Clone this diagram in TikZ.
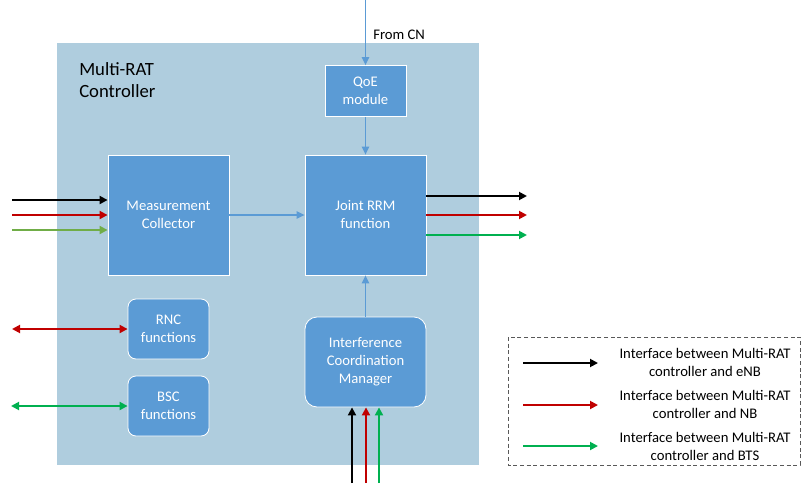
\documentclass[tikz,border=0pt]{standalone}
\usepackage{fontspec}
\setmainfont{Carlito}
\definecolor{ctrlbg}{HTML}{AFCDDE}
\definecolor{boxblue}{HTML}{5B9BD5}
\definecolor{myred}{HTML}{C00000}
\definecolor{mygreen}{HTML}{00B050}
\definecolor{lightgreen}{HTML}{70AD47}
\definecolor{legendgray}{HTML}{595959}
\usetikzlibrary{positioning, arrows.meta, calc}
\tikzset{
	blocknode/.style={
			rectangle,
			draw=white,
			line width=0.6pt,
			fill=boxblue,
			text=white,
			align=center,
			inner sep=0pt,
			font=\fontsize{11}{13.5}\selectfont
		},
	roundnode/.style={
			blocknode,
			rounded corners=6pt
		},
	textnode/.style={
			align=center,
			inner sep=0pt,
			font=\fontsize{11}{13.5}\selectfont
		},
	flow/.style={
			draw=boxblue,
			line width=1pt,
			-{Triangle[length=6pt,width=5.5pt]}
		},
	iface/.style={
			line width=1.4pt,
			-{Triangle[length=6pt,width=6pt]}
		},
	ifaceboth/.style={
			line width=1.4pt,
			{Triangle[length=6pt,width=6pt]}-{Triangle[length=6pt,width=6pt]}
		}
}

\begin{document}
\begin{tikzpicture}[x=0.75pt, y=-0.75pt]
\useasboundingbox (0,0) rectangle (801,483);
\fill[ctrlbg] (57,43) rectangle (479,465);

\node[anchor=north west, align=left, inner sep=0pt, font=\fontsize{14}{16.5}\selectfont] (title) at (79,62) {Multi-RAT\\Controller};

\node[blocknode, minimum width=60.75pt, minimum height=38.25pt] (qoe) at (365.5,91) {QoE\\module};
\node[blocknode, minimum width=90.75pt, minimum height=90pt] (mc) at (168.5,215) {Measurement\\Collector};
\node[blocknode, minimum width=90.75pt, minimum height=90pt] (rrm) at (365.5,215) {Joint RRM\\function};
\node[roundnode, minimum width=60.75pt, minimum height=45pt] (rnc) at (168.5,329) {RNC\\functions};
\node[roundnode, minimum width=60.75pt, minimum height=45pt] (bsc) at (168.5,406) {BSC\\functions};
\node[roundnode, rounded corners=9pt, minimum width=90.75pt, minimum height=67.5pt] (icm) at (365.5,362) {Interference\\Coordination\\Manager};

\coordinate (cn) at (365.5,0);
\node[textnode, anchor=west] (cnlabel) at (373,35) {From CN};
\draw[flow] (cn) -- (qoe);
\draw[flow] (qoe) -- (rrm);
\draw[flow] (mc) -- (rrm);
\draw[flow] (icm) -- (rrm);

\coordinate (inA) at (12,200);
\coordinate (inB) at (12,215);
\coordinate (inC) at (12,230);
\draw[iface, black] (inA) -- (inA -| mc.west);
\draw[iface, myred] (inB) -- (inB -| mc.west);
\draw[iface, lightgreen] (inC) -- (inC -| mc.west);

\coordinate (outA) at (527,196);
\coordinate (outB) at (527,215);
\coordinate (outC) at (527,235);
\draw[iface, black] (outA -| rrm.east) -- (outA);
\draw[iface, myred] (outB -| rrm.east) -- (outB);
\draw[iface, mygreen] (outC -| rrm.east) -- (outC);

\coordinate (rncend) at (12,329);
\coordinate (bscend) at (11,406);
\draw[ifaceboth, myred] (rncend) -- (rnc);
\draw[ifaceboth, mygreen] (bscend) -- (bsc);

\coordinate (botA) at (352,483);
\coordinate (botB) at (366,483);
\coordinate (botC) at (379,483);
\draw[iface, black] (botA) -- (botA |- icm.south);
\draw[iface, myred] (botB) -- (botB |- icm.south);
\draw[iface, mygreen] (botC) -- (botC |- icm.south);

\draw[legendgray, line width=0.6pt, dash pattern=on 3pt off 2pt] (508,337) rectangle (800,465);
\coordinate (legA) at (523,363);
\coordinate (legAend) at (598,363);
\coordinate (legB) at (523,405);
\coordinate (legBend) at (598,405);
\coordinate (legC) at (523,446);
\coordinate (legCend) at (598,446);
\draw[iface, black] (legA) -- (legAend);
\draw[iface, myred] (legB) -- (legBend);
\draw[iface, mygreen] (legC) -- (legCend);
\node[textnode] (legAtext) at (705,362) {Interface between Multi-RAT\\controller and eNB};
\node[textnode] (legBtext) at (705,404) {Interface between Multi-RAT\\controller and NB};
\node[textnode] (legCtext) at (705,446) {Interface between Multi-RAT\\controller and BTS};
\end{tikzpicture}
\end{document}
